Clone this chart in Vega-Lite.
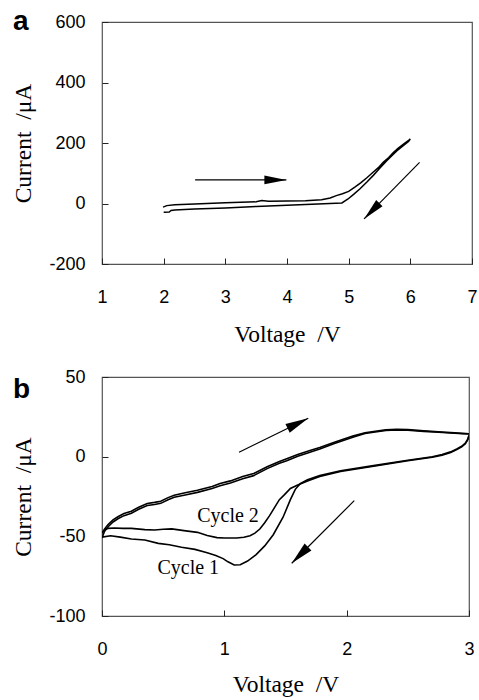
{
  "$schema": "https://vega.github.io/schema/vega-lite/v6.json",
  "padding": {"left": 11, "top": 7, "right": 4, "bottom": 0},
  "background": "white",
  "spacing": 20,
  "config": {
    "view": {"stroke": "#555", "strokeWidth": 1.2},
    "axis": {
      "grid": false, "domain": false, "tickSize": -6, "tickColor": "#222", "tickWidth": 1,
      "labelFont": "Liberation Sans", "labelFontSize": 18, "labelColor": "black",
      "labelFlush": false, "labelBound": false, "labelOverlap": false, "labelExpr": "'' + datum.value",
      "titleFont": "Liberation Serif", "titleFontSize": 23.5, "titleFontWeight": "normal", "titleColor": "black"
    },
    "title": {"font": "Liberation Sans", "fontSize": 28, "fontWeight": "bold", "color": "black", "anchor": "start", "frame": "group", "baseline": "alphabetic"}
  },
  "datasets": {
    "a": [
      {"i": 1, "v": 1.99, "c": -12}, {"i": 2, "v": 2.05, "c": -7}, {"i": 3, "v": 2.18, "c": -4},
      {"i": 4, "v": 2.5, "c": -1.5}, {"i": 5, "v": 3.0, "c": 2.5}, {"i": 6, "v": 3.5, "c": 5.5},
      {"i": 7, "v": 3.59, "c": 9.5}, {"i": 8, "v": 3.7, "c": 7.5}, {"i": 9, "v": 4.0, "c": 8},
      {"i": 10, "v": 4.3, "c": 9}, {"i": 11, "v": 4.56, "c": 12.5}, {"i": 12, "v": 4.7, "c": 18},
      {"i": 13, "v": 4.8, "c": 26}, {"i": 14, "v": 4.9, "c": 32}, {"i": 15, "v": 5.0, "c": 40},
      {"i": 16, "v": 5.1, "c": 54}, {"i": 17, "v": 5.2, "c": 69}, {"i": 18, "v": 5.3, "c": 86},
      {"i": 19, "v": 5.4, "c": 104}, {"i": 20, "v": 5.5, "c": 122}, {"i": 21, "v": 5.56, "c": 136},
      {"i": 22, "v": 5.65, "c": 152}, {"i": 23, "v": 5.72, "c": 168}, {"i": 24, "v": 5.8, "c": 182},
      {"i": 25, "v": 5.9, "c": 198}, {"i": 26, "v": 6.0, "c": 213},
      {"i": 27, "v": 5.97, "c": 205}, {"i": 28, "v": 5.88, "c": 190}, {"i": 29, "v": 5.78, "c": 174},
      {"i": 30, "v": 5.7, "c": 158}, {"i": 31, "v": 5.61, "c": 140}, {"i": 32, "v": 5.5, "c": 116},
      {"i": 33, "v": 5.4, "c": 93}, {"i": 34, "v": 5.3, "c": 72}, {"i": 35, "v": 5.18, "c": 48},
      {"i": 36, "v": 5.08, "c": 30}, {"i": 37, "v": 4.99, "c": 15}, {"i": 38, "v": 4.89, "c": 2},
      {"i": 39, "v": 4.5, "c": -2}, {"i": 40, "v": 4.0, "c": -6}, {"i": 41, "v": 3.5, "c": -10},
      {"i": 42, "v": 3.0, "c": -14.5}, {"i": 43, "v": 2.5, "c": -18}, {"i": 44, "v": 2.18, "c": -21.5},
      {"i": 45, "v": 2.12, "c": -23}, {"i": 46, "v": 2.09, "c": -28}, {"i": 47, "v": 2.0, "c": -29}
    ],
    "b": [
      {"s": 1, "i": 1, "v": 3.0, "c": 13.5}, {"s": 1, "i": 2, "v": 2.99, "c": 11}, {"s": 1, "i": 3, "v": 2.97, "c": 8.5},
      {"s": 1, "i": 4, "v": 2.94, "c": 6.5}, {"s": 1, "i": 5, "v": 2.9, "c": 4.8}, {"s": 1, "i": 6, "v": 2.85, "c": 3},
      {"s": 1, "i": 7, "v": 2.78, "c": 1.3}, {"s": 1, "i": 8, "v": 2.7, "c": 0}, {"s": 1, "i": 9, "v": 2.5, "c": -2.2},
      {"s": 1, "i": 10, "v": 2.22, "c": -5.6}, {"s": 1, "i": 11, "v": 1.95, "c": -8.8}, {"s": 1, "i": 12, "v": 1.78, "c": -11.9},
      {"s": 1, "i": 13, "v": 1.68, "c": -14.5}, {"s": 1, "i": 14, "v": 1.62, "c": -17}, {"s": 1, "i": 15, "v": 1.58, "c": -20.5},
      {"s": 1, "i": 16, "v": 1.54, "c": -27}, {"s": 1, "i": 17, "v": 1.48, "c": -38}, {"s": 1, "i": 18, "v": 1.4, "c": -49},
      {"s": 1, "i": 19, "v": 1.33, "c": -56}, {"s": 1, "i": 20, "v": 1.26, "c": -61.5}, {"s": 1, "i": 21, "v": 1.19, "c": -65.5},
      {"s": 1, "i": 22, "v": 1.13, "c": -67.8}, {"s": 1, "i": 23, "v": 1.08, "c": -68}, {"s": 1, "i": 24, "v": 1.03, "c": -66},
      {"s": 1, "i": 25, "v": 0.99, "c": -64}, {"s": 1, "i": 26, "v": 0.93, "c": -62}, {"s": 1, "i": 27, "v": 0.86, "c": -60.3},
      {"s": 1, "i": 28, "v": 0.76, "c": -58.2}, {"s": 1, "i": 29, "v": 0.65, "c": -56.9}, {"s": 1, "i": 30, "v": 0.55, "c": -55.3},
      {"s": 1, "i": 31, "v": 0.46, "c": -54.4}, {"s": 1, "i": 32, "v": 0.35, "c": -52.3}, {"s": 1, "i": 33, "v": 0.24, "c": -51.7},
      {"s": 1, "i": 34, "v": 0.15, "c": -50.5}, {"s": 1, "i": 35, "v": 0.07, "c": -49.6}, {"s": 1, "i": 36, "v": 0.0, "c": -50.5},
      {"s": 1, "i": 37, "v": 0.0, "c": -51}, {"s": 1, "i": 38, "v": 0.02, "c": -47}, {"s": 1, "i": 39, "v": 0.05, "c": -44},
      {"s": 1, "i": 40, "v": 0.09, "c": -41}, {"s": 1, "i": 41, "v": 0.13, "c": -39}, {"s": 1, "i": 42, "v": 0.18, "c": -37},
      {"s": 1, "i": 43, "v": 0.24, "c": -35.5}, {"s": 1, "i": 44, "v": 0.3, "c": -33}, {"s": 1, "i": 45, "v": 0.37, "c": -30.7},
      {"s": 1, "i": 46, "v": 0.43, "c": -30}, {"s": 1, "i": 47, "v": 0.48, "c": -29.3}, {"s": 1, "i": 48, "v": 0.54, "c": -27},
      {"s": 1, "i": 49, "v": 0.59, "c": -25.5}, {"s": 1, "i": 50, "v": 0.68, "c": -24}, {"s": 1, "i": 51, "v": 0.78, "c": -22.4},
      {"s": 1, "i": 52, "v": 0.9, "c": -20}, {"s": 1, "i": 53, "v": 0.965, "c": -18.2}, {"s": 1, "i": 54, "v": 1.05, "c": -16.5},
      {"s": 1, "i": 55, "v": 1.15, "c": -13.8}, {"s": 1, "i": 56, "v": 1.24, "c": -11.9}, {"s": 1, "i": 57, "v": 1.35, "c": -7.5},
      {"s": 1, "i": 58, "v": 1.45, "c": -4.2}, {"s": 1, "i": 59, "v": 1.51, "c": -2.5}, {"s": 1, "i": 60, "v": 1.6, "c": 0.3},
      {"s": 1, "i": 61, "v": 1.7, "c": 2.8}, {"s": 1, "i": 62, "v": 1.78, "c": 4.8}, {"s": 1, "i": 63, "v": 1.9, "c": 8.2},
      {"s": 1, "i": 64, "v": 2.05, "c": 12.2}, {"s": 1, "i": 65, "v": 2.15, "c": 14.5}, {"s": 1, "i": 66, "v": 2.22, "c": 15.3},
      {"s": 1, "i": 67, "v": 2.32, "c": 16.4}, {"s": 1, "i": 68, "v": 2.41, "c": 16.8}, {"s": 1, "i": 69, "v": 2.5, "c": 16.6},
      {"s": 1, "i": 70, "v": 2.63, "c": 15.9}, {"s": 1, "i": 71, "v": 2.75, "c": 15.3}, {"s": 1, "i": 72, "v": 2.85, "c": 14.9},
      {"s": 1, "i": 73, "v": 2.95, "c": 14.4}, {"s": 1, "i": 74, "v": 3.0, "c": 14.2},

      {"s": 2, "i": 1, "v": 3.0, "c": 13.2}, {"s": 2, "i": 2, "v": 2.99, "c": 10.6}, {"s": 2, "i": 3, "v": 2.97, "c": 8.1},
      {"s": 2, "i": 4, "v": 2.94, "c": 6.1}, {"s": 2, "i": 5, "v": 2.9, "c": 4.4}, {"s": 2, "i": 6, "v": 2.85, "c": 2.6},
      {"s": 2, "i": 7, "v": 2.78, "c": 0.9}, {"s": 2, "i": 8, "v": 2.7, "c": -0.4}, {"s": 2, "i": 9, "v": 2.5, "c": -2.6},
      {"s": 2, "i": 10, "v": 2.22, "c": -6.0}, {"s": 2, "i": 11, "v": 1.95, "c": -9.3}, {"s": 2, "i": 12, "v": 1.78, "c": -12.5},
      {"s": 2, "i": 13, "v": 1.68, "c": -15.3}, {"s": 2, "i": 14, "v": 1.6, "c": -17.8}, {"s": 2, "i": 15, "v": 1.54, "c": -20},
      {"s": 2, "i": 16, "v": 1.49, "c": -24}, {"s": 2, "i": 17, "v": 1.45, "c": -27}, {"s": 2, "i": 18, "v": 1.41, "c": -32},
      {"s": 2, "i": 19, "v": 1.37, "c": -37}, {"s": 2, "i": 20, "v": 1.33, "c": -41.5}, {"s": 2, "i": 21, "v": 1.29, "c": -45.4},
      {"s": 2, "i": 22, "v": 1.25, "c": -48}, {"s": 2, "i": 23, "v": 1.21, "c": -49.6}, {"s": 2, "i": 24, "v": 1.16, "c": -50.6},
      {"s": 2, "i": 25, "v": 1.1, "c": -51}, {"s": 2, "i": 26, "v": 1.0, "c": -51}, {"s": 2, "i": 27, "v": 0.94, "c": -50.8},
      {"s": 2, "i": 28, "v": 0.86, "c": -49.5}, {"s": 2, "i": 29, "v": 0.78, "c": -47.5}, {"s": 2, "i": 30, "v": 0.67, "c": -46.4},
      {"s": 2, "i": 31, "v": 0.57, "c": -45.3}, {"s": 2, "i": 32, "v": 0.5, "c": -45.6}, {"s": 2, "i": 33, "v": 0.43, "c": -46},
      {"s": 2, "i": 34, "v": 0.35, "c": -45.8}, {"s": 2, "i": 35, "v": 0.24, "c": -45}, {"s": 2, "i": 36, "v": 0.17, "c": -45},
      {"s": 2, "i": 37, "v": 0.1, "c": -44.8}, {"s": 2, "i": 38, "v": 0.05, "c": -45}, {"s": 2, "i": 39, "v": 0.02, "c": -46},
      {"s": 2, "i": 40, "v": 0.0, "c": -48},
      {"s": 2, "i": 41, "v": 0.02, "c": -45.5}, {"s": 2, "i": 42, "v": 0.05, "c": -42.6}, {"s": 2, "i": 43, "v": 0.09, "c": -39.7},
      {"s": 2, "i": 44, "v": 0.13, "c": -37.7}, {"s": 2, "i": 45, "v": 0.18, "c": -35.7}, {"s": 2, "i": 46, "v": 0.24, "c": -34.2},
      {"s": 2, "i": 47, "v": 0.3, "c": -31.7}, {"s": 2, "i": 48, "v": 0.37, "c": -29.4}, {"s": 2, "i": 49, "v": 0.43, "c": -28.7},
      {"s": 2, "i": 50, "v": 0.48, "c": -28}, {"s": 2, "i": 51, "v": 0.54, "c": -25.7}, {"s": 2, "i": 52, "v": 0.59, "c": -24.2},
      {"s": 2, "i": 53, "v": 0.68, "c": -22.7}, {"s": 2, "i": 54, "v": 0.78, "c": -21.1}, {"s": 2, "i": 55, "v": 0.9, "c": -18.7},
      {"s": 2, "i": 56, "v": 0.965, "c": -16.9}, {"s": 2, "i": 57, "v": 1.05, "c": -15.2}, {"s": 2, "i": 58, "v": 1.15, "c": -12.5},
      {"s": 2, "i": 59, "v": 1.24, "c": -10.6}, {"s": 2, "i": 60, "v": 1.35, "c": -6.3}, {"s": 2, "i": 61, "v": 1.45, "c": -3.0},
      {"s": 2, "i": 62, "v": 1.51, "c": -1.3}, {"s": 2, "i": 63, "v": 1.6, "c": 1.4}, {"s": 2, "i": 64, "v": 1.7, "c": 3.9},
      {"s": 2, "i": 65, "v": 1.78, "c": 5.8}, {"s": 2, "i": 66, "v": 1.9, "c": 9.1}, {"s": 2, "i": 67, "v": 2.05, "c": 12.9},
      {"s": 2, "i": 68, "v": 2.15, "c": 15.0}, {"s": 2, "i": 69, "v": 2.22, "c": 15.8}, {"s": 2, "i": 70, "v": 2.32, "c": 16.8},
      {"s": 2, "i": 71, "v": 2.41, "c": 17.2}, {"s": 2, "i": 72, "v": 2.5, "c": 17.0}, {"s": 2, "i": 73, "v": 2.63, "c": 16.2},
      {"s": 2, "i": 74, "v": 2.75, "c": 15.6}, {"s": 2, "i": 75, "v": 2.85, "c": 15.1}, {"s": 2, "i": 76, "v": 2.95, "c": 14.6},
      {"s": 2, "i": 77, "v": 3.0, "c": 14.4}
    ],
    "arrowsA": [
      {"k": 1, "x": 2.51, "y": 78, "x2": 3.99, "y2": 78},
      {"k": 2, "x": 6.15, "y": 136, "x2": 5.25, "y2": -51}
    ],
    "arrowsB": [
      {"k": 1, "x": 1.12, "y": 2.8, "x2": 1.686, "y2": 24.1},
      {"k": 2, "x": 2.062, "y": -27.6, "x2": 1.551, "y2": -66.9}
    ],
    "labelsB": [
      {"v": 1.03, "c": -41.2, "t": "Cycle 2"},
      {"v": 0.705, "c": -73.6, "t": "Cycle 1"}
    ]
  },
  "vconcat": [
    {
      "width": 370,
      "height": 242,
      "title": {"text": "a", "dx": -89, "dy": 27},
      "layer": [
        {
          "data": {"name": "a"},
          "mark": {"type": "line", "color": "black", "strokeWidth": 1.5, "clip": true},
          "encoding": {
            "x": {"field": "v", "type": "quantitative", "scale": {"domain": [1, 7], "nice": false, "zero": false},
                  "axis": {"values": [1, 2, 3, 4, 5, 6, 7], "title": "Voltage\u00a0 /V", "labelPadding": 30, "titlePadding": 16}},
            "y": {"field": "c", "type": "quantitative", "scale": {"domain": [-200, 600], "nice": false, "zero": false},
                  "axis": {"values": [-200, 0, 200, 400, 600], "title": "Current\u00a0 /μA", "labelPadding": 23, "titlePadding": 13}},
            "order": {"field": "i", "type": "quantitative"}
          }
        },
        {
          "data": {"name": "arrowsA"},
          "mark": {"type": "rule", "color": "black", "strokeWidth": 1.2},
          "encoding": {
            "x": {"field": "x", "type": "quantitative", "title": "Voltage\u00a0 /V"},
            "y": {"field": "y", "type": "quantitative", "title": "Current\u00a0 /μA"},
            "x2": {"field": "x2"},
            "y2": {"field": "y2"}
          }
        },
        {
          "data": {"name": "arrowsA"},
          "transform": [{"filter": "datum.k == 1"}],
          "mark": {"type": "point", "shape": "M0,0L-2,-0.4L-2,0.4Z", "filled": true, "color": "black", "opacity": 1, "size": 484, "angle": 0},
          "encoding": {
            "x": {"field": "x2", "type": "quantitative", "title": "Voltage\u00a0 /V"},
            "y": {"field": "y2", "type": "quantitative", "title": "Current\u00a0 /μA"}
          }
        },
        {
          "data": {"name": "arrowsA"},
          "transform": [{"filter": "datum.k == 2"}],
          "mark": {"type": "point", "shape": "M0,0L-2,-0.4L-2,0.4Z", "filled": true, "color": "black", "opacity": 1, "size": 484, "angle": 134},
          "encoding": {
            "x": {"field": "x2", "type": "quantitative", "title": "Voltage\u00a0 /V"},
            "y": {"field": "y2", "type": "quantitative", "title": "Current\u00a0 /μA"}
          }
        }
      ]
    },
    {
      "width": 367,
      "height": 239,
      "title": {"text": "b", "dx": -89, "dy": 40},
      "layer": [
        {
          "data": {"name": "b"},
          "mark": {"type": "line", "color": "black", "strokeWidth": 1.6, "clip": true},
          "encoding": {
            "x": {"field": "v", "type": "quantitative", "scale": {"domain": [0, 3], "nice": false, "zero": false},
                  "axis": {"values": [0, 1, 2, 3], "title": "Voltage\u00a0 /V", "labelPadding": 30, "titlePadding": 14}},
            "y": {"field": "c", "type": "quantitative", "scale": {"domain": [-100, 50], "nice": false, "zero": false},
                  "axis": {"values": [-100, -50, 0, 50], "title": "Current\u00a0 /μA", "labelPadding": 23, "titlePadding": 13}},
            "detail": {"field": "s", "type": "nominal"},
            "order": {"field": "i", "type": "quantitative"}
          }
        },
        {
          "data": {"name": "labelsB"},
          "mark": {"type": "text", "font": "Liberation Serif", "fontSize": 20, "color": "black", "align": "center", "baseline": "alphabetic"},
          "encoding": {
            "x": {"field": "v", "type": "quantitative", "title": "Voltage\u00a0 /V"},
            "y": {"field": "c", "type": "quantitative", "title": "Current\u00a0 /μA"},
            "text": {"field": "t"}
          }
        },
        {
          "data": {"name": "arrowsB"},
          "mark": {"type": "rule", "color": "black", "strokeWidth": 1.2},
          "encoding": {
            "x": {"field": "x", "type": "quantitative", "title": "Voltage\u00a0 /V"},
            "y": {"field": "y", "type": "quantitative", "title": "Current\u00a0 /μA"},
            "x2": {"field": "x2"},
            "y2": {"field": "y2"}
          }
        },
        {
          "data": {"name": "arrowsB"},
          "transform": [{"filter": "datum.k == 1"}],
          "mark": {"type": "point", "shape": "M0,0L-2,-0.42L-2,0.42Z", "filled": true, "color": "black", "opacity": 1, "size": 529, "angle": 334},
          "encoding": {
            "x": {"field": "x2", "type": "quantitative", "title": "Voltage\u00a0 /V"},
            "y": {"field": "y2", "type": "quantitative", "title": "Current\u00a0 /μA"}
          }
        },
        {
          "data": {"name": "arrowsB"},
          "transform": [{"filter": "datum.k == 2"}],
          "mark": {"type": "point", "shape": "M0,0L-2,-0.42L-2,0.42Z", "filled": true, "color": "black", "opacity": 1, "size": 529, "angle": 135},
          "encoding": {
            "x": {"field": "x2", "type": "quantitative", "title": "Voltage\u00a0 /V"},
            "y": {"field": "y2", "type": "quantitative", "title": "Current\u00a0 /μA"}
          }
        }
      ]
    }
  ]
}
